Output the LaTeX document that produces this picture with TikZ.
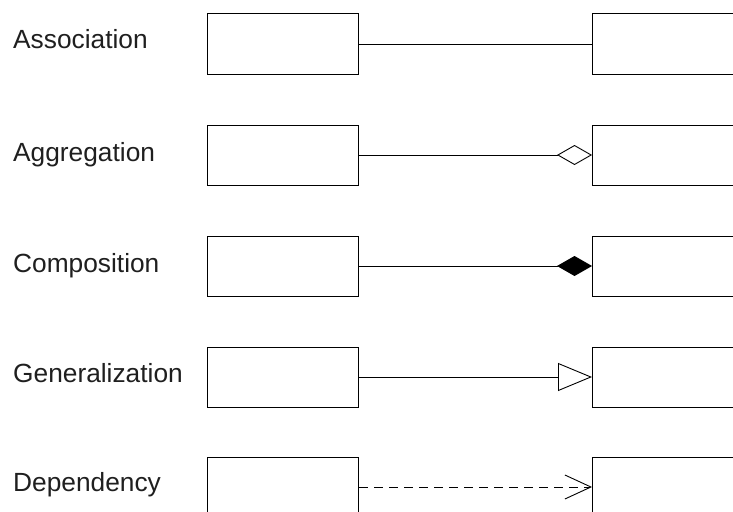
\documentclass[tikz,border=0pt]{standalone}
\usepackage{fontspec}
\setsansfont{Liberation Sans}
\usepackage{tikz}
\usetikzlibrary{arrows.meta}
\usetikzlibrary{positioning}
\tikzset{
  Klasse/.style={draw, line width=1pt, minimum width=151pt, minimum height=60pt, inner sep=0pt}, % Klassenkasten
  Name/.style={anchor=base west, inner sep=0pt, text=black!88}, % Beschriftung links
  Linie/.style={line width=.9pt}, % Verbindungslinie
  Abh/.style={Linie, dash pattern=on 9pt off 6pt} % gestrichelt
}

\begin{document}
\begin{tikzpicture}[%
x=1pt, y=-1pt,
font=\sffamily\upshape\fontsize{26.3}{31}\selectfont,
>=Stealth % Voreinstellung für Pfeilspitzen
]
\useasboundingbox (0,0) rectangle (733,511);

%Klassen
\foreach \n/\y in {1/44,2/155,3/266,4/377,5/487}
{%
  \node[Klasse, anchor=west] (L\n) at (207,\y) {};
  \node[Klasse, anchor=west] (R\n) at (592,\y) {};
}

%Beschriftungen
\node[Name] (T1) at (13,48.5) {Association};
\node[Name] (T2) at (13,161.5) {Aggregation};
\node[Name] (T3) at (13,272) {Composition};
\node[Name] (T4) at (13,382.5) {Generalization};
\node[Name] (T5) at (13,491.5) {Dependency};

%Beziehungen
\draw[Linie] (L1.east) -- (R1.west);
\draw[Linie, -{Diamond[open, length=35pt, width=20pt, line width=.9pt]}] (L2.east) -- (R2.west);
\draw[Linie, -{Diamond[length=35pt, width=20pt]}] (L3.east) -- (R3.west);
\draw[Linie, -{Triangle[open, length=34pt, width=28pt, line width=.9pt]}] (L4.east) -- (R4.west);
\draw[Abh, -{Straight Barb[length=26pt, width=24pt, line width=.9pt]}] (L5.east) -- (R5.west);

\end{tikzpicture}
\end{document}
